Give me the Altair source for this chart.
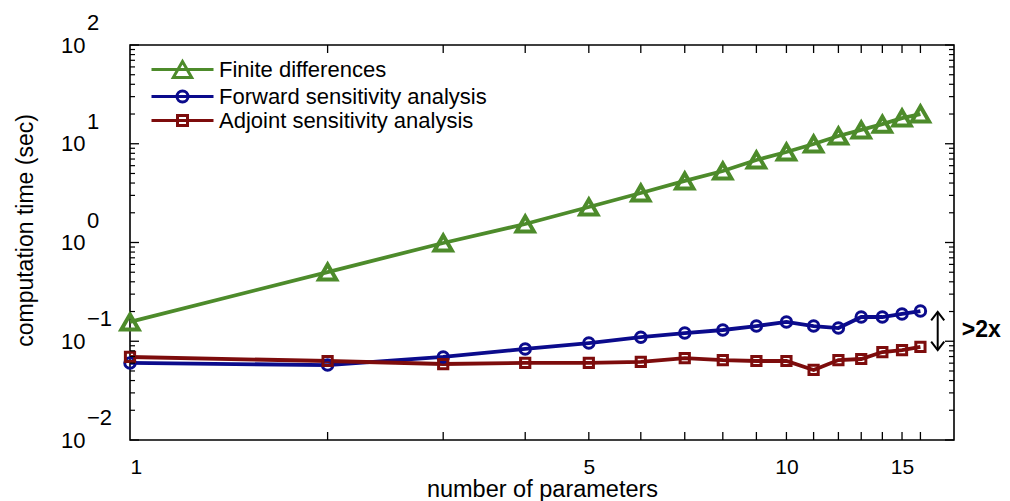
import altair as alt
import pandas as pd

FONT = "Liberation Sans"

params = list(range(1, 17))
finite = [0.157, 0.502, 0.989, 1.54, 2.29, 3.17, 4.20, 5.30, 6.84, 8.25, 9.94, 11.98, 13.8, 15.8, 18.2, 20.0]
forward = [0.0603, 0.0574, 0.0693, 0.0835, 0.0959, 0.110, 0.121, 0.130, 0.1425, 0.157, 0.1425, 0.136, 0.176, 0.176, 0.189, 0.202]
adjoint = [0.0693, 0.0631, 0.0588, 0.0603, 0.0603, 0.0617, 0.0676, 0.0645, 0.0631, 0.0631, 0.0512, 0.0645, 0.0661, 0.0778, 0.0815, 0.0875]
names = ["Finite differences", "Forward sensitivity analysis", "Adjoint sensitivity analysis"]
colors = ["#4d8b2b", "#0b0b8c", "#7d0c0c"]

x_tick_values = list(range(2, 17))
x_label_values = [1, 5, 10, 15]
y_major = [0.01, 0.1, 1, 10, 100]
y_exps = ["\u22122", "\u22121", "0", "1", "2"]
y_minor = [k * 10.0 ** e for e in range(-2, 2) for k in range(2, 10)]

arrow_x = [17]
arrow_top = [0.198]
arrow_bottom = [0.0815]
note_y = [0.13]
note_text = [">2x"]

rows = []
for name, vals in zip(names, [finite, forward, adjoint]):
    for p, v in zip(params, vals):
        rows.append({"params": p, "time": v, "method": name})
df = pd.DataFrame(rows)

W, H = 824, 395
xscale = alt.Scale(type="log", domain=[1, 18], nice=False)
yscale = alt.Scale(type="log", domain=[0.01, 100], nice=False)
cscale = alt.Scale(domain=names, range=colors)

leg_paths = [
    "M-3.1,0L3.1,0M0,-0.8L-0.92,0.8L0.92,0.8Z",
    "M-3.1,0L3.1,0M-0.55,0A0.55,0.55 0 1,0 0.55,0A0.55,0.55 0 1,0 -0.55,0Z",
    "M-3.1,0L3.1,0M-0.5,-0.5L0.5,-0.5L0.5,0.5L-0.5,0.5Z",
]

x_main = alt.X("params:Q", scale=xscale,
               axis=alt.Axis(values=x_label_values, labelFontSize=21, labelPadding=16,
                             title="number of parameters", titleFontSize=23.5,
                             titleBaseline="alphabetic", titleY=56, titleFontWeight="normal"))
y_main = alt.Y("time:Q", scale=yscale,
               axis=alt.Axis(values=y_major, labelExpr="'10'", labelFontSize=22, labelPadding=45,
                             title="computation time (sec)", titleFontSize=23,
                             titleFontWeight="normal", titleBaseline="alphabetic",
                             titleX=-98, titleY=185, titleAlign="center"))
x_plain = alt.X("params:Q", scale=xscale)
y_plain = alt.Y("time:Q", scale=yscale)
color_enc = alt.Color("method:N", scale=cscale)

base = alt.Chart(df)

lines = base.mark_line(strokeWidth=3.8).encode(x=x_main, y=y_main, color=color_enc)

shapes = ["triangle-up", "circle", "square"]
sizes = [300, 110, 85]
widths = [4, 3, 3]
marker_layers = []
for name, shp, sz, sw in zip(names, shapes, sizes, widths):
    marker_layers.append(
        base.transform_filter(alt.datum.method == name)
        .mark_point(shape=shp, size=sz, filled=False, strokeWidth=sw, opacity=1)
        .encode(x=x_plain, y=y_plain, color=color_enc)
    )

leg = alt.Legend(title=None, orient="none", legendX=41, legendY=13, labelFontSize=22,
                 labelFont=FONT, symbolSize=400, symbolStrokeWidth=3, labelOffset=25,
                 rowPadding=1, padding=0, labelColor="black", labelLimit=500)
legend_layer = base.transform_filter("false").mark_point(filled=False, strokeWidth=3, size=400).encode(
    x=x_plain, y=y_plain,
    color=alt.Color("method:N", scale=cscale, legend=leg),
    shape=alt.Shape("method:N", scale=alt.Scale(domain=names, range=leg_paths), legend=leg),
)

xt = pd.DataFrame({"params": x_tick_values})
xt_bottom = alt.Chart(xt).mark_rule(color="black", strokeWidth=1.3).encode(
    x=x_plain, y=alt.value(H), y2=alt.value(H - 8))
xt_top = alt.Chart(xt).mark_rule(color="black", strokeWidth=1.3).encode(
    x=x_plain, y=alt.value(0), y2=alt.value(8))

ymaj = pd.DataFrame({"time": y_major, "e": y_exps})
ymin = pd.DataFrame({"time": y_minor})
yt_layers = [
    alt.Chart(ymaj).mark_rule(color="black", strokeWidth=1.3).encode(y=y_plain, x=alt.value(0), x2=alt.value(9)),
    alt.Chart(ymaj).mark_rule(color="black", strokeWidth=1.3).encode(y=y_plain, x=alt.value(W), x2=alt.value(W - 9)),
    alt.Chart(ymin).mark_rule(color="black", strokeWidth=1.2).encode(y=y_plain, x=alt.value(0), x2=alt.value(5)),
    alt.Chart(ymin).mark_rule(color="black", strokeWidth=1.2).encode(y=y_plain, x=alt.value(W), x2=alt.value(W - 5)),
]
exp_text = alt.Chart(ymaj).mark_text(align="left", baseline="middle", dy=-22, fontSize=22,
                                     font=FONT, color="black").encode(
    y=y_plain, x=alt.value(-43), text="e:N")

adf = pd.DataFrame({"params": arrow_x, "time": arrow_top, "bottom": arrow_bottom})
arrow_shaft = alt.Chart(adf).mark_rule(color="black", strokeWidth=2).encode(
    x=x_plain, y=y_plain, y2="bottom:Q")
arrow_up = alt.Chart(adf).mark_point(shape="M-1,1.3L0,0L1,1.3", size=170, filled=False,
                                     color="black", strokeWidth=2, opacity=1).encode(
    x=x_plain, y=y_plain)
bdf = pd.DataFrame({"params": arrow_x, "time": arrow_bottom})
arrow_down = alt.Chart(bdf).mark_point(shape="M-1,-1.3L0,0L1,-1.3", size=170, filled=False,
                                       color="black", strokeWidth=2, opacity=1).encode(
    x=x_plain, y=y_plain)
ndf = pd.DataFrame({"params": arrow_x, "time": note_y, "t": note_text})
note = alt.Chart(ndf).mark_text(align="left", baseline="middle", dx=24, fontSize=23,
                                fontWeight="bold", font=FONT, color="black").encode(
    x=x_plain, y=y_plain, text="t:N")

chart = alt.layer(
    lines, *marker_layers, legend_layer, xt_bottom, xt_top, *yt_layers, exp_text,
    arrow_shaft, arrow_up, arrow_down, note
).properties(
    width=W, height=H,
    autosize=alt.AutoSizeParams(type="none"),
    padding={"left": 122, "top": 37, "right": 48, "bottom": 61},
).configure_view(
    stroke="black", strokeWidth=1.6
).configure_axis(
    grid=False, ticks=False, domain=False, labelFont=FONT, titleFont=FONT,
    labelColor="black", titleColor="black"
).configure_legend(
    labelFont=FONT
)

chart.save("out.html", embed_options={"renderer": "svg", "actions": False})
